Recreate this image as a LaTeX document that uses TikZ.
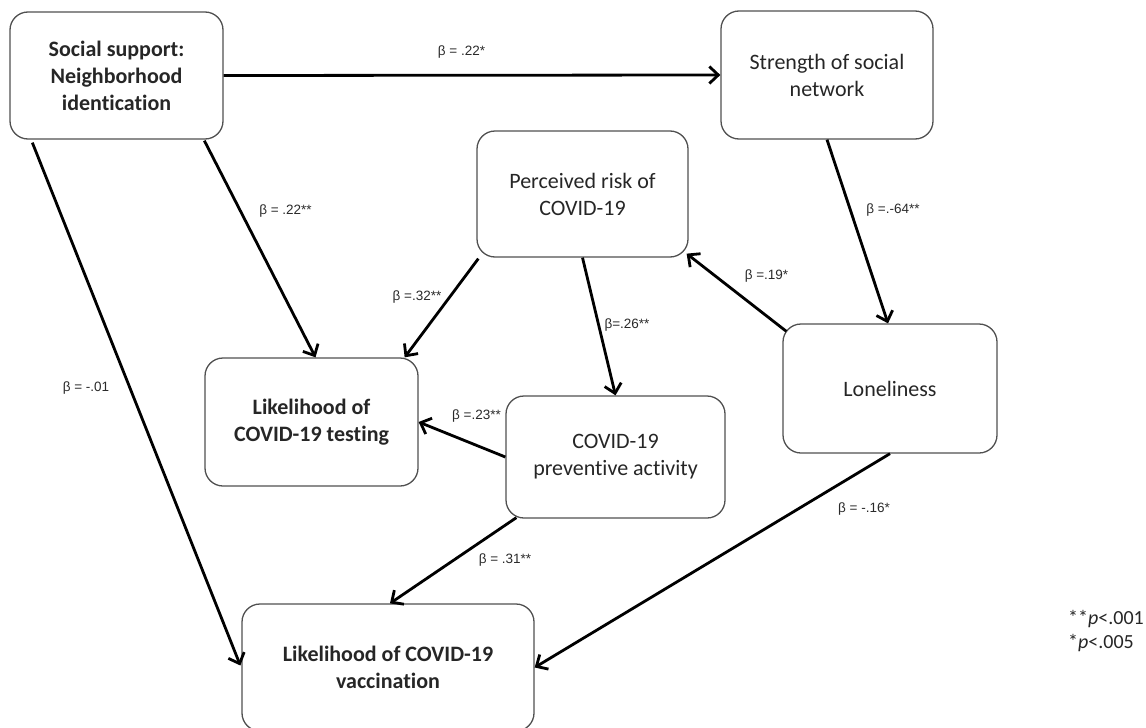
\documentclass[tikz,border=0pt]{standalone}
\usepackage{fontspec}
\setmainfont{Carlito}[Ligatures=CommonOff]
\newfontfamily\labfont{Liberation Sans}
\usetikzlibrary{arrows.meta,calc}
\definecolor{boxline}{HTML}{505050}
\definecolor{labcol}{HTML}{2a2a2a}
\begin{document}
\begin{tikzpicture}[x=1pt,y=-1pt,
  box/.style={draw=boxline, line width=1.3pt, rounded corners=18pt, align=center, inner sep=0pt,
    font=\fontsize{22}{27}\selectfont, text=black!85},
  boldbox/.style={box, font=\fontsize{22}{27}\selectfont\bfseries},
  conn/.style={line width=2.8pt, -{Straight Barb[length=9pt,width=17pt]}},
  lab/.style={font=\labfont\fontsize{13.5}{16}\selectfont, text=labcol, inner sep=0pt},
  leg/.style={font=\fontsize{20}{24}\selectfont, text=black!85, anchor=west, inner sep=0pt}]
\useasboundingbox (0,0) rectangle (1146,728);

% boxes
\node[boldbox, minimum width=213pt, minimum height=127pt] (ss) at (116.5,75.5) {Social support:\\Neighborhood\\identication};
\node[box, minimum width=212pt, minimum height=128pt] (sn) at (827,75) {Strength of social\\network};
\node[box, minimum width=211pt, minimum height=126pt] (pr) at (582.5,194) {Perceived risk of\\COVID-19};
\node[box, minimum width=214pt, minimum height=129pt] (lo) at (890,388.5) {Loneliness};
\node[box, minimum width=219pt, minimum height=122pt] (pa) at (615.5,457) {COVID-19\\preventive activity};
\node[boldbox, minimum width=213pt, minimum height=128pt] (te) at (311.5,422) {Likelihood of\\COVID-19 testing};
\node[boldbox, minimum width=292pt, minimum height=127pt] (va) at (388,667.5) {Likelihood of COVID-19\\vaccination};

% connectors
\draw[conn] (ss.east) -- (sn.west);
\draw[conn] ($(ss.south west)+(195,1)$) -- ($(te.north)+(4,0)$);
\draw[conn] ($(ss.south west)+(23,3)$) -- ($(va.west)+(-1,-2)$);
\draw[conn] (sn.south) -- ($(lo.north)+(-2,0)$);
\draw[conn] ($(pr.south west)+(2,1)$) -- ($(te.north east)+(-14,0)$);
\draw[conn] (pr.south) -- (pa.north);
\draw[conn] ($(lo.north west)+(4,8)$) -- ($(pr.south east)+(-2,-4)$);
\draw[conn] (pa.west) -- (te.east);
\draw[conn] ($(pa.south west)+(11,-1)$) -- ($(va.north)+(2,0)$);
\draw[conn] (lo.south) -- (va.east);

% labels
\node[lab] (l1) at (461.5,52) {β = .22*};
\node[lab] (l2) at (285.5,211) {β = .22**};
\node[lab] (l3) at (86,388) {β = -.01};
\node[lab] (l4) at (893,210) {β =.-64**};
\node[lab] (l5) at (417,297) {β =.32**};
\node[lab] (l6) at (627,325) {β=.26**};
\node[lab] (l7) at (766.5,276) {β =.19*};
\node[lab] (l8) at (476.5,416) {β =.23**};
\node[lab] (l9) at (505,560) {β = .31**};
\node[lab] (l10) at (864,509) {β = -.16*};

% legend
\node[leg] (g1) at (1068,619) {**\textit{p}<.001};
\node[leg] (g2) at (1068,643) {*\textit{p}<.005};
\end{tikzpicture}
\end{document}
